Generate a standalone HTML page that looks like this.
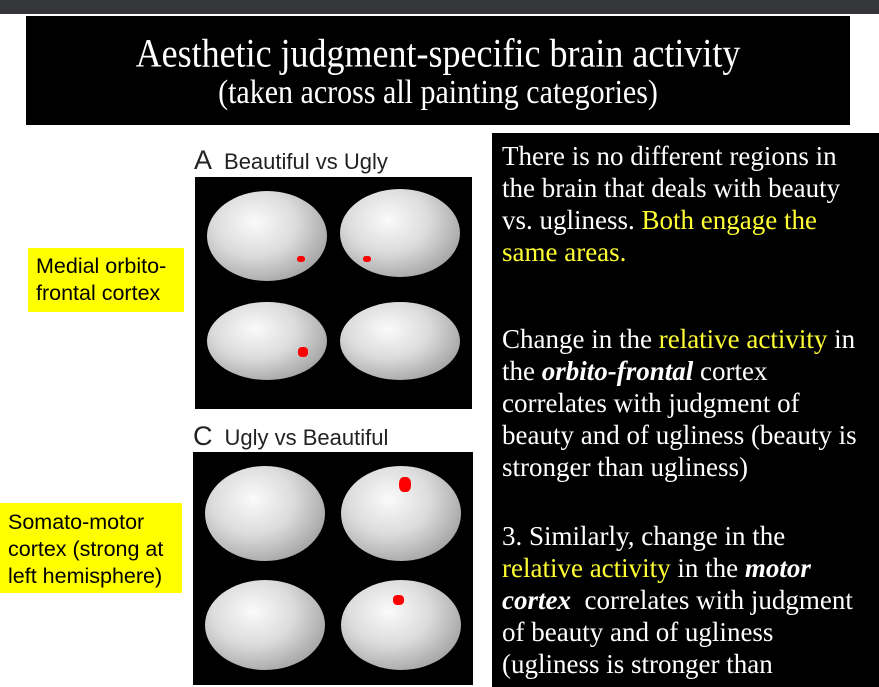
<!DOCTYPE html>
<html><head><meta charset="utf-8"><style>
body{margin:0;width:879px;height:687px;background:#fff;position:relative;overflow:hidden;font-family:"Liberation Sans",sans-serif}
.abs{position:absolute}
.brain{position:absolute;border-radius:50%;background:radial-gradient(ellipse at 40% 35%,#fafafa 0%,#dcdcdc 40%,#a8a8a8 75%,#666 100%)}
.red{position:absolute;background:#f00;border-radius:40%}
.yl{position:absolute;background:#ffff00;color:#000;font-size:21.5px;line-height:27px}
.lab{position:absolute;font-size:22px;color:#222}
.lab b{font-weight:normal;font-size:27px;margin-right:12px}
#txt{position:absolute;left:492px;top:133px;width:387px;height:554px;background:#000;color:#fff;font-family:"Liberation Serif",serif;font-size:27px;line-height:32px;padding:7px 0 0 10px;box-sizing:border-box;white-space:nowrap}
#txt p{margin:0}
.y{color:#ffff33}
</style></head><body>
<div class="abs" style="left:0;top:0;width:879px;height:14px;background:#35363a"></div>
<div class="abs" style="left:26px;top:16px;width:824px;height:109px;background:#000;color:#fff;font-family:'Liberation Serif',serif;text-align:center">
<div style="font-size:36px;margin-top:16px;line-height:42px;transform:scaleY(1.12)">Aesthetic judgment-specific brain activity</div>
<div style="font-size:30px;line-height:38px;transform:scaleY(1.12)">(taken across all painting categories)</div></div>

<div class="lab" style="left:194px;top:145px"><b>A</b>Beautiful vs Ugly</div>
<div class="abs" style="left:195px;top:177px;width:277px;height:232px;background:#000">
<div class="brain" style="left:12px;top:14px;width:120px;height:90px"></div>
<div class="brain" style="left:145px;top:12px;width:120px;height:88px"></div>
<div class="brain" style="left:12px;top:125px;width:120px;height:78px"></div>
<div class="brain" style="left:145px;top:125px;width:120px;height:78px"></div>
<div class="red" style="left:102px;top:79px;width:8px;height:6px"></div>
<div class="red" style="left:168px;top:79px;width:8px;height:6px"></div>
<div class="red" style="left:103px;top:170px;width:10px;height:10px"></div>
</div>
<div class="yl" style="left:28px;top:248px;width:156px;height:64px;padding:5px 0 0 8px;box-sizing:border-box">Medial orbito-<br>frontal cortex</div>

<div class="lab" style="left:193px;top:421px"><b>C</b>Ugly vs Beautiful</div>
<div class="abs" style="left:193px;top:452px;width:280px;height:233px;background:#000">
<div class="brain" style="left:12px;top:14px;width:120px;height:95px"></div>
<div class="brain" style="left:148px;top:14px;width:120px;height:95px"></div>
<div class="brain" style="left:12px;top:128px;width:120px;height:90px"></div>
<div class="brain" style="left:148px;top:128px;width:120px;height:90px"></div>
<div class="red" style="left:206px;top:25px;width:12px;height:15px"></div>
<div class="red" style="left:200px;top:143px;width:11px;height:10px"></div>
</div>
<div class="yl" style="left:0;top:503px;width:182px;height:90px;padding:6px 0 0 8px;box-sizing:border-box">Somato-motor<br>cortex (strong at<br>left hemisphere)</div>

<div id="txt">
<p>There is no different regions in<br>the brain that deals with beauty<br>vs. ugliness. <span class="y">Both engage the<br>same areas.</span></p>
<p style="margin-top:55px">Change in the <span class="y">relative activity</span> in<br>the <b><i>orbito-frontal</i></b> cortex<br>correlates with judgment of<br>beauty and of ugliness (beauty is<br>stronger than ugliness)</p>
<p style="margin-top:37px">3. Similarly, change in the<br><span class="y">relative activity</span> in the <b><i>motor<br>cortex</i></b>&nbsp; correlates with judgment<br>of beauty and of ugliness<br>(ugliness is stronger than</p></div>
</body></html>
